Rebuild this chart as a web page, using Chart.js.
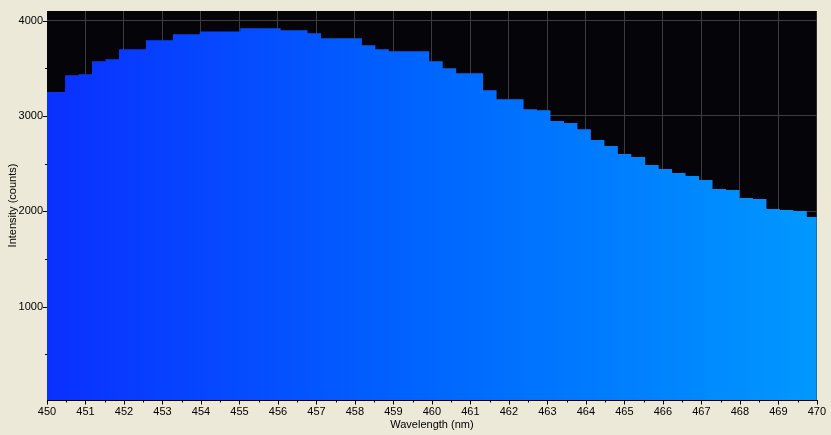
<!DOCTYPE html>
<html><head><meta charset="utf-8">
<script src="https://cdn.jsdelivr.net/npm/chart.js@4.4.1/dist/chart.umd.min.js"></script>
<style>html,body{margin:0;padding:0;background:#ECE9D8;overflow:hidden}canvas{display:block}</style>
</head><body>
<canvas id="c" width="831" height="435"></canvas>
<script>
// Bin start wavelengths (nm); last entry closes the final bin
const wavelengths = [449.77, 450.47, 450.82, 451.17, 451.52, 451.87, 452.22, 452.57, 452.92, 453.27,
  453.62, 453.97, 454.32, 454.67, 455.02, 455.37, 455.72, 456.07, 456.42, 456.77,
  457.12, 457.47, 457.83, 458.18, 458.53, 458.88, 459.23, 459.58, 459.93, 460.28,
  460.63, 460.98, 461.33, 461.68, 462.03, 462.38, 462.73, 463.08, 463.43, 463.78,
  464.13, 464.48, 464.83, 465.18, 465.54, 465.89, 466.24, 466.59, 466.94, 467.29,
  467.64, 467.99, 468.34, 468.69, 469.04, 469.39, 469.74, 470.09];
// Intensity (counts) of each bin
const intensity = [3251, 3426, 3437, 3573, 3594, 3698, 3698, 3793, 3793, 3856,
  3856, 3884, 3884, 3884, 3918, 3918, 3918, 3897, 3897, 3866,
  3814, 3814, 3814, 3740, 3698, 3677, 3677, 3677, 3573, 3499,
  3447, 3447, 3269, 3175, 3175, 3070, 3059, 2945, 2924, 2861,
  2746, 2683, 2599, 2568, 2484, 2442, 2400, 2369, 2327, 2232,
  2222, 2138, 2128, 2023, 2012, 2002, 1939, 1939];
const xTickLabels = [450, 451, 452, 453, 454, 455, 456, 457, 458, 459, 460, 461, 462, 463, 464, 465, 466, 467, 468, 469, 470];
const yTickLabels = [1000, 2000, 3000, 4000];
const yTickValues = [500, 1000, 1500, 2000, 2500, 3000, 3500, 4000];

const FONT = {family: "'Liberation Sans', Arial, sans-serif", size: 11};
const GRID = '#3c3c3c';

const frame = {
  id: 'frame',
  beforeDraw(chart) {
    const {ctx, chartArea: a} = chart;
    ctx.save();
    ctx.fillStyle = '#050408';
    ctx.fillRect(a.left, a.top, a.right - a.left, a.bottom - a.top);
    ctx.restore();
  },
  afterDraw(chart) {
    const {ctx, chartArea: a, scales: {x, y}} = chart;
    ctx.save();
    ctx.strokeStyle = '#000';
    ctx.lineWidth = 1;
    ctx.beginPath();
    const by = Math.round(a.bottom) + 0.5;
    ctx.moveTo(a.left, by); ctx.lineTo(a.right + 1, by);
    x.ticks.forEach(t => {
      const px = Math.round(x.getPixelForValue(t.value)) + 0.5;
      const len = xTickLabels.includes(t.value) ? 4 : 2;
      ctx.moveTo(px, by); ctx.lineTo(px, by + len);
    });
    y.ticks.forEach(t => {
      const py = Math.round(y.getPixelForValue(t.value)) + 0.5;
      const len = yTickLabels.includes(t.value) ? 4 : 2;
      ctx.moveTo(a.left - len, py); ctx.lineTo(a.left, py);
    });
    ctx.stroke();
    ctx.restore();
  }
};

const points = wavelengths.map((w, i) => ({x: w, y: intensity[i]}));

new Chart(document.getElementById('c'), {
  type: 'line',
  data: {
    datasets: [{
      data: points,
      stepped: 'before',
      fill: 'origin',
      borderWidth: 0,
      borderColor: 'rgba(0,0,0,0)',
      pointRadius: 0,
      pointHoverRadius: 0,
      backgroundColor: (c) => {
        const a = c.chart.chartArea;
        if (!a) return '#0060ff';
        const g = c.chart.ctx.createLinearGradient(a.left, 0, a.right, 0);
        g.addColorStop(0, 'rgb(10,48,255)');
        g.addColorStop(0.5, 'rgb(0,102,255)');
        g.addColorStop(1, 'rgb(0,152,255)');
        return g;
      }
    }]
  },
  options: {
    responsive: false,
    animation: false,
    events: [],
    layout: {padding: {left: 0, right: 11, top: 11, bottom: 0}},
    plugins: {legend: {display: false}, tooltip: {enabled: false}},
    scales: {
      x: {
        type: 'linear', min: 450, max: 470,
        afterFit(s) { s.height = 35; },
        border: {display: false},
        grid: {
          drawTicks: false,
          color: c => (c.tick && Number.isInteger(c.tick.value) && c.tick.value > 450 && c.tick.value < 470) ? GRID : 'rgba(0,0,0,0)'
        },
        ticks: {
          stepSize: 0.5, autoSkip: false, maxRotation: 0, minRotation: 0, padding: 5,
          color: '#000', font: FONT,
          callback: v => xTickLabels.includes(v) ? String(v) : ''
        },
        title: {display: true, text: 'Wavelength (nm)', color: '#000', font: FONT, padding: {top: 0, bottom: 3}}
      },
      y: {
        min: 20, max: 4100,
        afterBuildTicks(s) { s.ticks = yTickValues.map(v => ({value: v})); },
        afterFit(s) { s.width = 47; },
        border: {display: false},
        grid: {
          drawTicks: false,
          color: c => (c.tick && yTickLabels.includes(c.tick.value)) ? GRID : 'rgba(0,0,0,0)'
        },
        ticks: {
          autoSkip: false, padding: 4,
          color: '#000', font: FONT,
          callback: v => yTickLabels.includes(v) ? String(v) : ''
        },
        title: {display: true, text: 'Intensity (counts)', color: '#000', font: FONT, padding: {top: 6, bottom: 0}}
      }
    }
  },
  plugins: [frame]
});
</script>
</body></html>
